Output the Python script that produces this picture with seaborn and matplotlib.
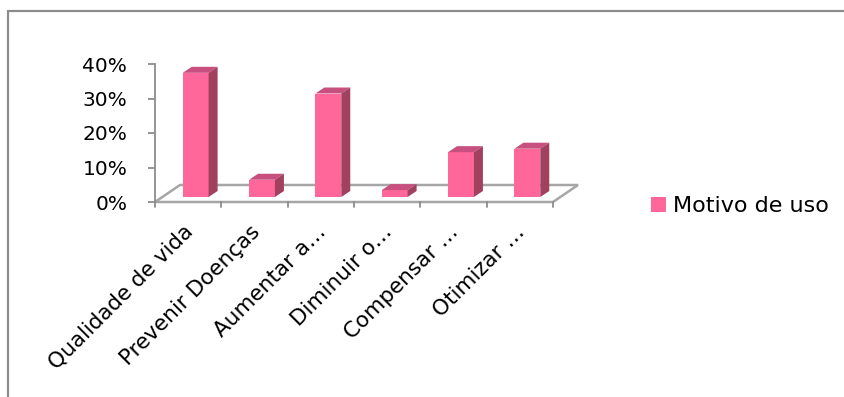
import matplotlib
matplotlib.use("Agg")
import matplotlib.pyplot as plt
import seaborn as sns
import pandas as pd
from matplotlib.patches import Polygon, Patch
from matplotlib.lines import Line2D
from matplotlib.transforms import ScaledTranslation, IdentityTransform

categories = ["Qualidade de vida", "Prevenir Doenças", "Aumentar a…", "Diminuir o…",
              "Compensar …", "Otimizar …"]
values = [0.36, 0.05, 0.30, 0.02, 0.13, 0.14]
series_name = "Motivo de uso"
y_ticks = [0.0, 0.1, 0.2, 0.3, 0.4]
y_tick_labels = ["0%", "10%", "20%", "30%", "40%"]

FRONT = "#FF6699"
TOP = "#C8507F"
SIDE = "#A1405F"
GRID = "#A6A6A6"

sns.set_style("white")
plt.rcParams["font.family"] = ["DejaVu Sans"]
plt.rcParams["text.color"] = "black"
plt.rcParams["xtick.labelcolor"] = "black"
plt.rcParams["ytick.labelcolor"] = "black"

W, H = 845, 397
fig = plt.figure(figsize=(W / 100, H / 100), dpi=100)
# axes: x from 155 to 553 px, y 0% at 202 px, 40% at 64 px
ax = fig.add_axes([155 / W, (H - 202) / H, 398 / W, 138 / H])

df = pd.DataFrame({"cat": categories, "val": values})
sns.barplot(data=df, x="cat", y="val", color=FRONT, saturation=1, width=0.39,
            linewidth=0, edgecolor="none", ax=ax, zorder=3)
ax.set_xlim(-0.5, len(categories) - 0.5)
ax.set_ylim(0, 0.40)

for s in ["top", "right", "bottom"]:
    ax.spines[s].set_visible(False)
ax.spines["left"].set_color("#8C8C8C")
ax.spines["left"].set_linewidth(1.3)

ax.set_yticks(y_ticks)
ax.set_yticklabels(y_tick_labels, fontsize=14.5, color="black")
ax.tick_params(axis="y", direction="out", length=5, width=1.3, color="#8C8C8C",
               left=True, pad=15)
ax.set_xlabel("")
ax.set_ylabel("")

# category labels
ax.set_xticks(range(len(categories)))
ax.set_xticklabels(categories, fontsize=15.5, rotation=45, ha="right",
                   rotation_mode="anchor", color="black")
ax.tick_params(axis="x", length=0, pad=14)
for lbl in ax.get_xticklabels():
    lbl.set_transform(lbl.get_transform() + ScaledTranslation(-5 / 100, 0, fig.dpi_scale_trans))

fig.canvas.draw()
to_disp = ax.transData

# floor (depth offsets in px)
fdx, fdy = 25, 17
x0 = to_disp.transform((-0.5, 0))
x1 = to_disp.transform((len(categories) - 0.5, 0))
floor = [(x0[0], x0[1]), (x1[0], x1[1]), (x1[0] + fdx, x1[1] + fdy), (x0[0] + fdx, x0[1] + fdy)]
ax.add_patch(Polygon(floor, closed=True, facecolor="white", edgecolor=GRID,
                     linewidth=1.8, transform=IdentityTransform(), zorder=1, clip_on=False))
# x ticks at category boundaries
for b in range(len(categories) + 1):
    p = to_disp.transform((b - 0.5, 0))
    ax.add_line(Line2D([p[0], p[0]], [p[1], p[1] - 5], color="#8C8C8C", linewidth=1.3,
                       transform=IdentityTransform(), zorder=2, clip_on=False))

# 3D bars: shift front face into the floor, add top and side faces
sx, sy = 7.5, 5
bdx, bdy = 9, 6
for patch in ax.patches[:]:
    if isinstance(patch, Polygon):
        continue
    bx, by = patch.get_x(), patch.get_y()
    bw, bh = patch.get_width(), patch.get_height()
    (px0, py0) = to_disp.transform((bx, by))
    (px1, py1) = to_disp.transform((bx + bw, by + bh))
    patch.set_transform(ax.transData + ScaledTranslation(sx / 100, sy / 100, fig.dpi_scale_trans))
    patch.set_clip_on(False)
    px0 += sx; px1 += sx; py0 += sy; py1 += sy
    top = [(px0, py1), (px1, py1), (px1 + bdx, py1 + bdy), (px0 + bdx, py1 + bdy)]
    side = [(px1, py0), (px1, py1), (px1 + bdx, py1 + bdy), (px1 + bdx, py0 + bdy)]
    ax.add_patch(Polygon(top, closed=True, facecolor=TOP, edgecolor="none",
                         transform=IdentityTransform(), zorder=3, clip_on=False))
    ax.add_patch(Polygon(side, closed=True, facecolor=SIDE, edgecolor="none",
                         transform=IdentityTransform(), zorder=3, clip_on=False))

# legend
ax.legend(handles=[Patch(facecolor=FRONT, edgecolor="none")], labels=[series_name],
          loc="center left", bbox_to_anchor=(651 / W, 1 - 206 / H),
          bbox_transform=fig.transFigure, frameon=False, fontsize=16,
          handlelength=0.68, handleheight=0.68, handletextpad=0.32,
          borderpad=0, borderaxespad=0, labelcolor="black")

# outer chart frame (top and left edges visible)
fig.add_artist(Line2D([8 / W, 1], [1 - 11 / H, 1 - 11 / H], color="#8C8C8C",
                      linewidth=1.6, transform=fig.transFigure))
fig.add_artist(Line2D([8 / W, 8 / W], [0, 1 - 11 / H], color="#8C8C8C",
                      linewidth=1.6, transform=fig.transFigure))

fig.savefig("out.png", dpi=100)
